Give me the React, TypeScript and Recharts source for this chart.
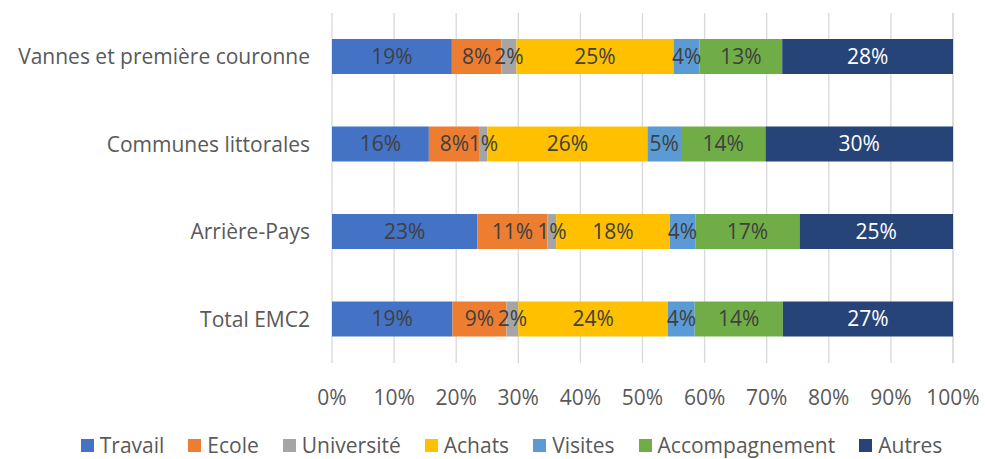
import React from 'react';
import {
  BarChart,
  Bar,
  XAxis,
  YAxis,
  CartesianGrid,
  Legend,
  LabelList,
} from 'recharts';

const zones = ['Vannes et première couronne', 'Communes littorales', 'Arrière-Pays', 'Total EMC2'];

const travail = [19.3, 15.6, 23.4, 19.4];
const ecole = [8.0, 8.2, 11.3, 8.7];
const universite = [2.4, 1.2, 1.4, 1.9];
const achats = [25.3, 25.8, 18.3, 24.1];
const visites = [4.2, 5.4, 4.1, 4.3];
const accompagnement = [13.3, 13.6, 16.8, 14.2];
const autres = [27.5, 30.2, 24.7, 27.4];

const xTicks = [0, 10, 20, 30, 40, 50, 60, 70, 80, 90, 100];

const series = [
  { key: 'travail', name: 'Travail', color: '#4472C4', label: '#404040' },
  { key: 'ecole', name: 'Ecole', color: '#ED7D31', label: '#404040' },
  { key: 'universite', name: 'Université', color: '#A5A5A5', label: '#404040' },
  { key: 'achats', name: 'Achats', color: '#FFC000', label: '#404040' },
  { key: 'visites', name: 'Visites', color: '#5B9BD5', label: '#404040' },
  { key: 'accompagnement', name: 'Accompagnement', color: '#70AD47', label: '#404040' },
  { key: 'autres', name: 'Autres', color: '#264478', label: '#FFFFFF' },
];

const data = zones.map((name, i) => ({
  name,
  travail: travail[i],
  ecole: ecole[i],
  universite: universite[i],
  achats: achats[i],
  visites: visites[i],
  accompagnement: accompagnement[i],
  autres: autres[i],
}));

const FONT = '"Open Sans", sans-serif';

function renderLegend() {
  return (
    <div
      style={{
        display: 'flex',
        justifyContent: 'center',
        alignItems: 'center',
        height: 20,
        paddingLeft: 38,
        fontFamily: FONT,
        fontSize: 21,
        color: '#595959',
        lineHeight: '20px',
      }}
    >
      {series.map((s, i) => (
        <div
          key={s.key}
          style={{ display: 'flex', alignItems: 'center', marginLeft: i === 0 ? 0 : 24 }}
        >
          <span style={{ width: 13, height: 13, background: s.color, marginRight: 6, display: 'inline-block' }} />
          <span>{s.name}</span>
        </div>
      ))}
    </div>
  );
}

export default function App() {
  return (
    <div style={{ position: 'absolute', left: 0, top: 0, width: 985, height: 459, background: '#fff' }}>
      <BarChart
        width={985}
        height={459}
        data={data}
        layout="vertical"
        margin={{ top: 13, right: 32, left: 0, bottom: 36 }}
        barSize={35}
      >
        <CartesianGrid horizontal={false} stroke="#D9D9D9" strokeWidth={1.3} />
        <XAxis
          type="number"
          domain={[0, 100]}
          ticks={xTicks}
          tickFormatter={(v) => `${v}%`}
          axisLine={false}
          tickLine={false}
          tickSize={0}
          tickMargin={27}
          height={40}
          interval={0}
          tick={{ fontSize: 21, fill: '#595959', fontFamily: FONT }}
        />
        <YAxis
          type="category"
          dataKey="name"
          width={332}
          axisLine={false}
          tickLine={false}
          tickSize={0}
          tickMargin={22}
          tick={{ fontSize: 21, fill: '#595959', fontFamily: FONT }}
        />
        <Legend
          content={renderLegend}
          wrapperStyle={{ top: 435, bottom: 'auto', left: 0, width: 985, height: 20 }}
        />
        {series.map((s) => (
          <Bar key={s.key} dataKey={s.key} name={s.name} stackId="a" fill={s.color} isAnimationActive={false}>
            <LabelList
              dataKey={s.key}
              position="center"
              formatter={(v: any) => `${Math.round(Number(v))}%`}
              style={{ fontSize: 21, fill: s.label, fontFamily: FONT }}
            />
          </Bar>
        ))}
      </BarChart>
    </div>
  );
}
